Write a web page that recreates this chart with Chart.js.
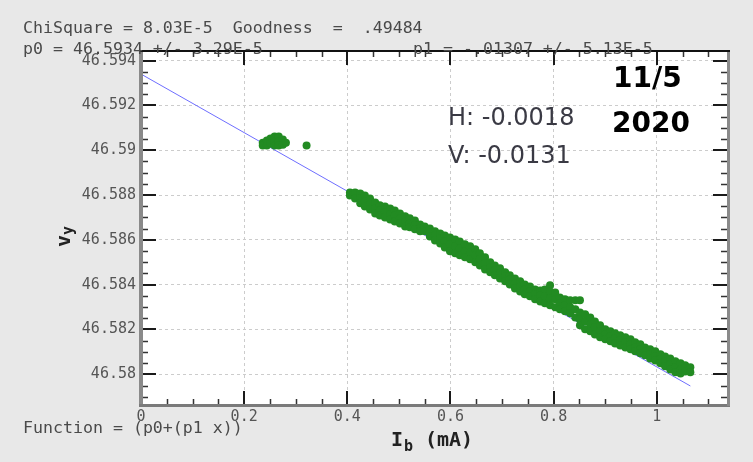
<!DOCTYPE html>
<html><head><meta charset="utf-8">
<script src="https://cdn.jsdelivr.net/npm/chart.js@4.4.1/dist/chart.umd.min.js"></script>
<style>html,body{margin:0;padding:0;background:#e8e8e8;}#wrap{width:753px;height:462px;}</style>
</head><body><div id="wrap"><canvas id="c" width="753" height="462"></canvas></div>
<script>
// ---- axis ticks ----
const xTicks = [0, 0.2, 0.4, 0.6, 0.8, 1];
const xTickLabels = ['0', '0.2', '0.4', '0.6', '0.8', '1'];
const xMinorTicks = [0.05,0.1,0.15,0.25,0.3,0.35,0.45,0.5,0.55,0.65,0.7,0.75,0.85,0.9,0.95,1.05,1.1];
const yTicks = [46.58, 46.582, 46.584, 46.586, 46.588, 46.59, 46.592, 46.594];
const yTickLabels = ['46.58', '46.582', '46.584', '46.586', '46.588', '46.59', '46.592', '46.594'];
const yMinorTicks = [46.579,46.5795,46.5805,46.581,46.5815,46.5825,46.583,46.5835,46.5845,46.585,46.5855,46.5865,46.587,46.5875,46.5885,46.589,46.5895,46.5905,46.591,46.5915,46.5925,46.593,46.5935];

// ---- fit line (p0 + p1 x) ----
const fitX = [0, 1.065];
const fitY = [46.5934, 46.57948];

// ---- measured points ----
const clusterX = [0.236,0.236,0.244,0.244,0.251,0.251,0.259,0.259,0.259,0.267,0.267,0.267,0.275,0.275,0.281,0.321];
const clusterY = [46.59034,46.59021,46.59043,46.59021,46.59052,46.59030,46.59061,46.59039,46.59021,46.59061,46.59039,46.59021,46.59048,46.59025,46.59034,46.59021];

const bandX = [0.405,0.415,0.425,0.434,0.444,0.454,0.463,0.473,0.483,0.492,0.502,0.512,0.521,0.531,0.541,0.550,0.560,0.570,0.580,0.589,0.599,0.609,0.618,0.628,0.638,0.648,0.657,0.667,0.677,0.686,0.696,0.706,0.715,0.725,0.735,0.744,0.754,0.764,0.774,0.783,0.793,0.803,0.812,0.822,0.832,0.842,0.851,0.861,0.871,0.880,0.890,0.900,0.910,0.919,0.929,0.939,0.949,0.958,0.968,0.977,0.987,0.997,1.007,1.016,1.026,1.036,1.046,1.055,1.065];
const bandY = [
 [46.58812,46.58798],
 [46.58812,46.58785],
 [46.58807,46.58785,46.58763],
 [46.58798,46.58772,46.58749],
 [46.58785,46.58758,46.58736],
 [46.58767,46.58740,46.58718],
 [46.58754,46.58731,46.58709],
 [46.58749,46.58723,46.58700],
 [46.58740,46.58714,46.58691],
 [46.58731,46.58709,46.58682],
 [46.58718,46.58696,46.58673],
 [46.58705,46.58682,46.58660],
 [46.58696,46.58673,46.58656],
 [46.58687,46.58665,46.58647],
 [46.58669,46.58651,46.58638],
 [46.58660,46.58638],
 [46.58651,46.58633,46.58615],
 [46.58638,46.58620,46.58597],
 [46.58629,46.58606,46.58584],
 [46.58620,46.58593,46.58566],
 [46.58611,46.58580,46.58549],
 [46.58602,46.58571,46.58540],
 [46.58593,46.58562,46.58531],
 [46.58580,46.58549,46.58522],
 [46.58571,46.58544,46.58513],
 [46.58558,46.58531,46.58500],
 [46.58540,46.58513,46.58486],
 [46.58522,46.58495,46.58468],
 [46.58500,46.58477,46.58455],
 [46.58486,46.58464,46.58442],
 [46.58473,46.58450,46.58428],
 [46.58455,46.58437,46.58415],
 [46.58442,46.58424,46.58401],
 [46.58428,46.58406,46.58383],
 [46.58415,46.58392,46.58370],
 [46.58401,46.58379,46.58357],
 [46.58392,46.58370,46.58348],
 [46.58379,46.58357,46.58335],
 [46.58374,46.58352,46.58325],
 [46.58379,46.58348,46.58317],
 [46.58397,46.58370,46.58339,46.58308],
 [46.58365,46.58335,46.58299],
 [46.58343,46.58317,46.58290],
 [46.58335,46.58308,46.58281],
 [46.58330,46.58299,46.58272],
 [46.58330,46.58290,46.58254],
 [46.58330,46.58276,46.58245,46.58219],
 [46.58268,46.58236,46.58201],
 [46.58254,46.58223,46.58192],
 [46.58236,46.58210,46.58178],
 [46.58219,46.58192,46.58165],
 [46.58201,46.58178,46.58156],
 [46.58192,46.58170,46.58147],
 [46.58183,46.58161,46.58138],
 [46.58174,46.58152,46.58129],
 [46.58165,46.58143,46.58120],
 [46.58156,46.58134,46.58112],
 [46.58143,46.58120,46.58103],
 [46.58134,46.58112,46.58094],
 [46.58120,46.58103,46.58085],
 [46.58112,46.58089,46.58071],
 [46.58103,46.58080,46.58062],
 [46.58089,46.58067,46.58049],
 [46.58080,46.58058,46.58036],
 [46.58071,46.58045,46.58022],
 [46.58058,46.58031,46.58009],
 [46.58049,46.58022,46.58004],
 [46.58040,46.58013],
 [46.58031,46.58009]
];

// ---- texts ----
const statLine1 = 'ChiSquare = 8.03E-5  Goodness  =  .49484';
const statP0 = 'p0 = 46.5934 +/- 3.29E-5';
const statP1 = 'p1 = -.01307 +/- 5.13E-5';
const funcText = 'Function = (p0+(p1 x))';
const noteH = 'H: -0.0018';
const noteV = 'V: -0.0131';
const dateLine1 = '11/5';
const dateLine2 = '2020';

const MONO = '"DejaVu Sans Mono", "Liberation Mono", monospace';

const bgPlugin = {
  id: 'bg',
  beforeDraw(chart) {
    const {ctx, chartArea: a} = chart;
    ctx.save();
    ctx.fillStyle = '#e8e8e8';
    ctx.fillRect(0, 0, chart.width, chart.height);
    ctx.fillStyle = '#ffffff';
    ctx.fillRect(a.left, a.top, a.right - a.left, a.bottom - a.top);
    ctx.restore();
  }
};

const framePlugin = {
  id: 'frame',
  afterDraw(chart) {
    const {ctx, chartArea: a, scales: {x, y}} = chart;
    ctx.save();
    // minor ticks
    ctx.strokeStyle = '#333';
    ctx.lineWidth = 1.5;
    ctx.beginPath();
    yMinorTicks.forEach(v => {
      const p = Math.round(y.getPixelForValue(v)) + 0.5;
      ctx.moveTo(a.left, p); ctx.lineTo(a.left + 7, p);
      ctx.moveTo(a.right, p); ctx.lineTo(a.right - 7, p);
    });
    xMinorTicks.forEach(v => {
      const p = Math.round(x.getPixelForValue(v)) + 0.5;
      ctx.moveTo(p, a.bottom); ctx.lineTo(p, a.bottom - 6);
      ctx.moveTo(p, a.top); ctx.lineTo(p, a.top + 6);
    });
    ctx.stroke();
    // major ticks
    ctx.strokeStyle = '#1a1a1a';
    ctx.lineWidth = 2;
    ctx.beginPath();
    yTicks.forEach(v => {
      const p = Math.round(y.getPixelForValue(v));
      ctx.moveTo(a.left, p); ctx.lineTo(a.left + 15, p);
      ctx.moveTo(a.right, p); ctx.lineTo(a.right - 15, p);
    });
    xTicks.forEach(v => {
      const p = Math.round(x.getPixelForValue(v));
      ctx.moveTo(p, a.bottom); ctx.lineTo(p, a.bottom - 14);
      ctx.moveTo(p, a.top); ctx.lineTo(p, a.top + 14);
    });
    ctx.stroke();
    // borders
    ctx.fillStyle = '#8a8a8a';
    ctx.fillRect(a.left - 2, a.top, 4, a.bottom - a.top + 1);
    ctx.fillStyle = '#7a7a7a';
    ctx.fillRect(a.left - 2, a.bottom - 1, a.right - a.left + 4, 3);
    ctx.fillStyle = '#8a8a8a';
    ctx.fillRect(a.right - 1, a.top, 3, a.bottom - a.top + 1);
    ctx.fillStyle = '#111';
    ctx.fillRect(a.left - 2, a.top - 1, a.right - a.left + 4, 2);

    // stats texts
    ctx.fillStyle = '#4a4a4a';
    ctx.font = '16.6px ' + MONO;
    ctx.textBaseline = 'alphabetic';
    ctx.textAlign = 'left';
    ctx.fillText(statLine1, 23, 33);
    ctx.fillText(statP0, 23, 54);
    ctx.fillText(statP1, 413, 54);
    ctx.fillText(funcText, 23, 433);

    // axis titles
    ctx.fillStyle = '#222';
    ctx.font = 'bold 20px ' + MONO;
    ctx.fillText('I', 391, 446);
    ctx.font = 'bold 15px ' + MONO;
    ctx.fillText('b', 404, 451);
    ctx.font = 'bold 20px ' + MONO;
    ctx.fillText('(mA)', 425, 446);

    ctx.save();
    ctx.translate(70, 247);
    ctx.rotate(-Math.PI / 2);
    ctx.font = 'bold 20px ' + MONO;
    ctx.fillText('v', 0, 0);
    ctx.font = 'bold 15px ' + MONO;
    ctx.fillText('y', 12, 3);
    ctx.restore();

    // annotations
    ctx.fillStyle = '#3a3a44';
    ctx.font = '24px "DejaVu Sans", sans-serif';
    ctx.fillText(noteH, 448, 125);
    ctx.fillText(noteV, 448, 163);
    ctx.fillStyle = '#000';
    ctx.font = 'bold 28px "DejaVu Sans", sans-serif';
    ctx.fillText(dateLine1, 613, 87);
    ctx.fillText(dateLine2, 612, 132);
    ctx.restore();
  }
};

const tickFont = {family: MONO, size: 15};

new Chart(document.getElementById('c'), {
  type: 'scatter',
  data: {
    datasets: [
      {type: 'line', label: 'fit', data: fitX.map((v, i) => ({x: v, y: fitY[i]})),
       borderColor: '#6e6eff', borderWidth: 1, pointRadius: 0, fill: false, order: 3},
      {label: 'cluster', data: clusterX.map((v, i) => ({x: v, y: clusterY[i]})),
       backgroundColor: '#228b22', borderWidth: 0, pointRadius: 4, order: 1},
      {label: 'band', data: bandX.flatMap((v, i) => bandY[i].map(w => ({x: v, y: w}))),
       backgroundColor: '#228b22', borderWidth: 0, pointRadius: 4, order: 1}
    ]
  },
  options: {
    responsive: false,
    animation: false,
    devicePixelRatio: 1,
    layout: {padding: {top: 51, right: 25, left: 0, bottom: 0}},
    plugins: {legend: {display: false}, tooltip: {enabled: false}},
    scales: {
      x: {
        type: 'linear', position: 'bottom', min: 0, max: 1.138,
        afterBuildTicks: s => { s.ticks = xTicks.map(v => ({value: v})); },
        afterFit: s => { s.height = 57; },
        ticks: {callback: (v, i) => xTickLabels[i], font: tickFont, color: '#555', padding: 3, maxRotation: 0, autoSkip: false},
        grid: {color: '#cccccc', lineWidth: 1, drawTicks: false},
        border: {display: false, dash: [3, 3]}
      },
      y: {
        type: 'linear', min: 46.57863, max: 46.59443,
        afterBuildTicks: s => { s.ticks = yTicks.map(v => ({value: v})); },
        afterFit: s => { s.width = 141; },
        ticks: {callback: (v, i) => yTickLabels[i], font: tickFont, color: '#555', padding: 5, autoSkip: false},
        grid: {color: '#cccccc', lineWidth: 1, drawTicks: false},
        border: {display: false, dash: [3, 3]}
      }
    }
  },
  plugins: [bgPlugin, framePlugin]
});
</script>
</body></html>
